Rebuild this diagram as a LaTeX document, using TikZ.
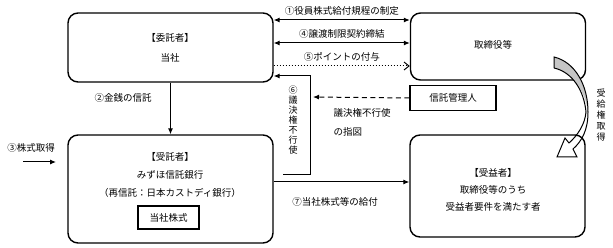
\documentclass[tikz,border=0pt]{standalone}
\usepackage{fontspec}
\setmainfont{Noto Sans CJK JP}
\usetikzlibrary{arrows.meta}

\begin{document}
\begin{tikzpicture}[x=1pt, y=-1pt, font=\fontsize{9.5}{12}\selectfont,
			party/.style={draw, line width=1.4pt, rounded corners=10pt},
			plainbox/.style={draw, line width=1.2pt},
			arr/.style={-{Latex[length=6pt,width=5pt]}, line width=1pt},
			dbl/.style={{Latex[length=6pt,width=5pt]}-{Latex[length=6pt,width=5pt]}, line width=1pt},
			tategaki/.style={align=center, inner sep=0pt, font=\fontsize{9}{10}\selectfont}]
			\useasboundingbox (0,0) rectangle (613,248);
			% boxes
			\node[party, minimum width=205pt, minimum height=69pt](trustor) at (170.5,47.5){};
			\node[party, minimum width=175pt, minimum height=67pt](board) at (498,46.5){};
			\node[party, minimum width=205pt, minimum height=108pt](trustee) at (170.5,189){};
			\node[party, minimum width=175pt, minimum height=102pt](beneficiary) at (497.5,186){};
			\node[plainbox, minimum width=86pt, minimum height=25pt](admin) at (453,98){信託管理人};
			\node[plainbox, minimum width=61pt, minimum height=23pt](shares) at (168.5,217.5){当社株式};
			% texts in boxes
			\node(trustorname) at (170,38){【委託者】};
			\node(tousha) at (170,58){当社};
			\node(boardname) at (493,45){取締役等};
			\node(trusteename) at (170,157){【受託者】};
			\node(mizuho) at (170,175){みずほ信託銀行};
			\node(retrust) at (170,193){（再信託：日本カストディ銀行）};
			\node(beneficiaryname) at (493,173){【受益者】};
			\node(among) at (493,190){取締役等のうち};
			\node(requirement) at (493,207){受益者要件を満たす者};
			% top arrows
			\draw[dbl] (trustor.east |- 0,20) -- (board.west |- 0,20) node[midway, above=1pt]{①役員株式給付規程の制定};
			\draw[dbl] (trustor.east |- 0,43) -- (board.west |- 0,43) node[midway, above=1pt]{④譲渡制限契約締結};
			\draw[-{Straight Barb[length=5pt,width=8pt]}, line width=1pt, dotted] (trustor.east |- 0,66) -- (board.west |- 0,66) node[midway, above=1pt]{⑤ポイントの付与};
			\coordinate(sixfoot) at (283,175);
			\draw[arr] (sixfoot) -| (310,76) -- (trustor.east |- 0,76);
			\node[tategaki](sixlabel) at (293,120){⑥\\議\\決\\権\\不\\行\\使};
			% instruction
			\coordinate(dashtip) at (313,97);
			\draw[arr, dash pattern=on 5pt off 3.5pt] (admin.west) -- (dashtip);
			\node[anchor=west](instr1) at (330,113){議決権不行使};
			\node[anchor=west](instr2) at (330,132){の指図};
			% money and shares
			\draw[arr] (trustor.south) -- (trustee.north);
			\node(money) at (123,98){②金銭の信託};
			\coordinate(buystart) at (23,162);
			\coordinate(buyend) at (56,162);
			\draw[arr] (buystart) -- (buyend);
			\node(buy) at (31,148){③株式取得};
			\draw[arr] (trustee.east |- 0,182) -- (beneficiary.west |- 0,182);
			\node(delivery) at (335,202){⑦当社株式等の給付};
			% curved arrow
			\fill[gray!45] (554,57) .. controls (575,62) and (588,85) .. (588,112) .. controls (585,90) and (572,72) .. (554,68) -- cycle;
			\draw[line width=1pt] (554,68) -- (554,57) .. controls (575,62) and (588,85) .. (588,112) .. controls (588,130) and (582,141) .. (573,149) -- (577,157) -- (557,157) -- (565,138) -- (569,143) .. controls (578,135) and (585,124) .. (586,112) .. controls (584,90) and (572,72) .. (554,68);
			\node[tategaki, font=\fontsize{9}{11}\selectfont](rightlabel) at (601,115){受\\給\\権\\取\\得};
			\end{tikzpicture}
\end{document}
